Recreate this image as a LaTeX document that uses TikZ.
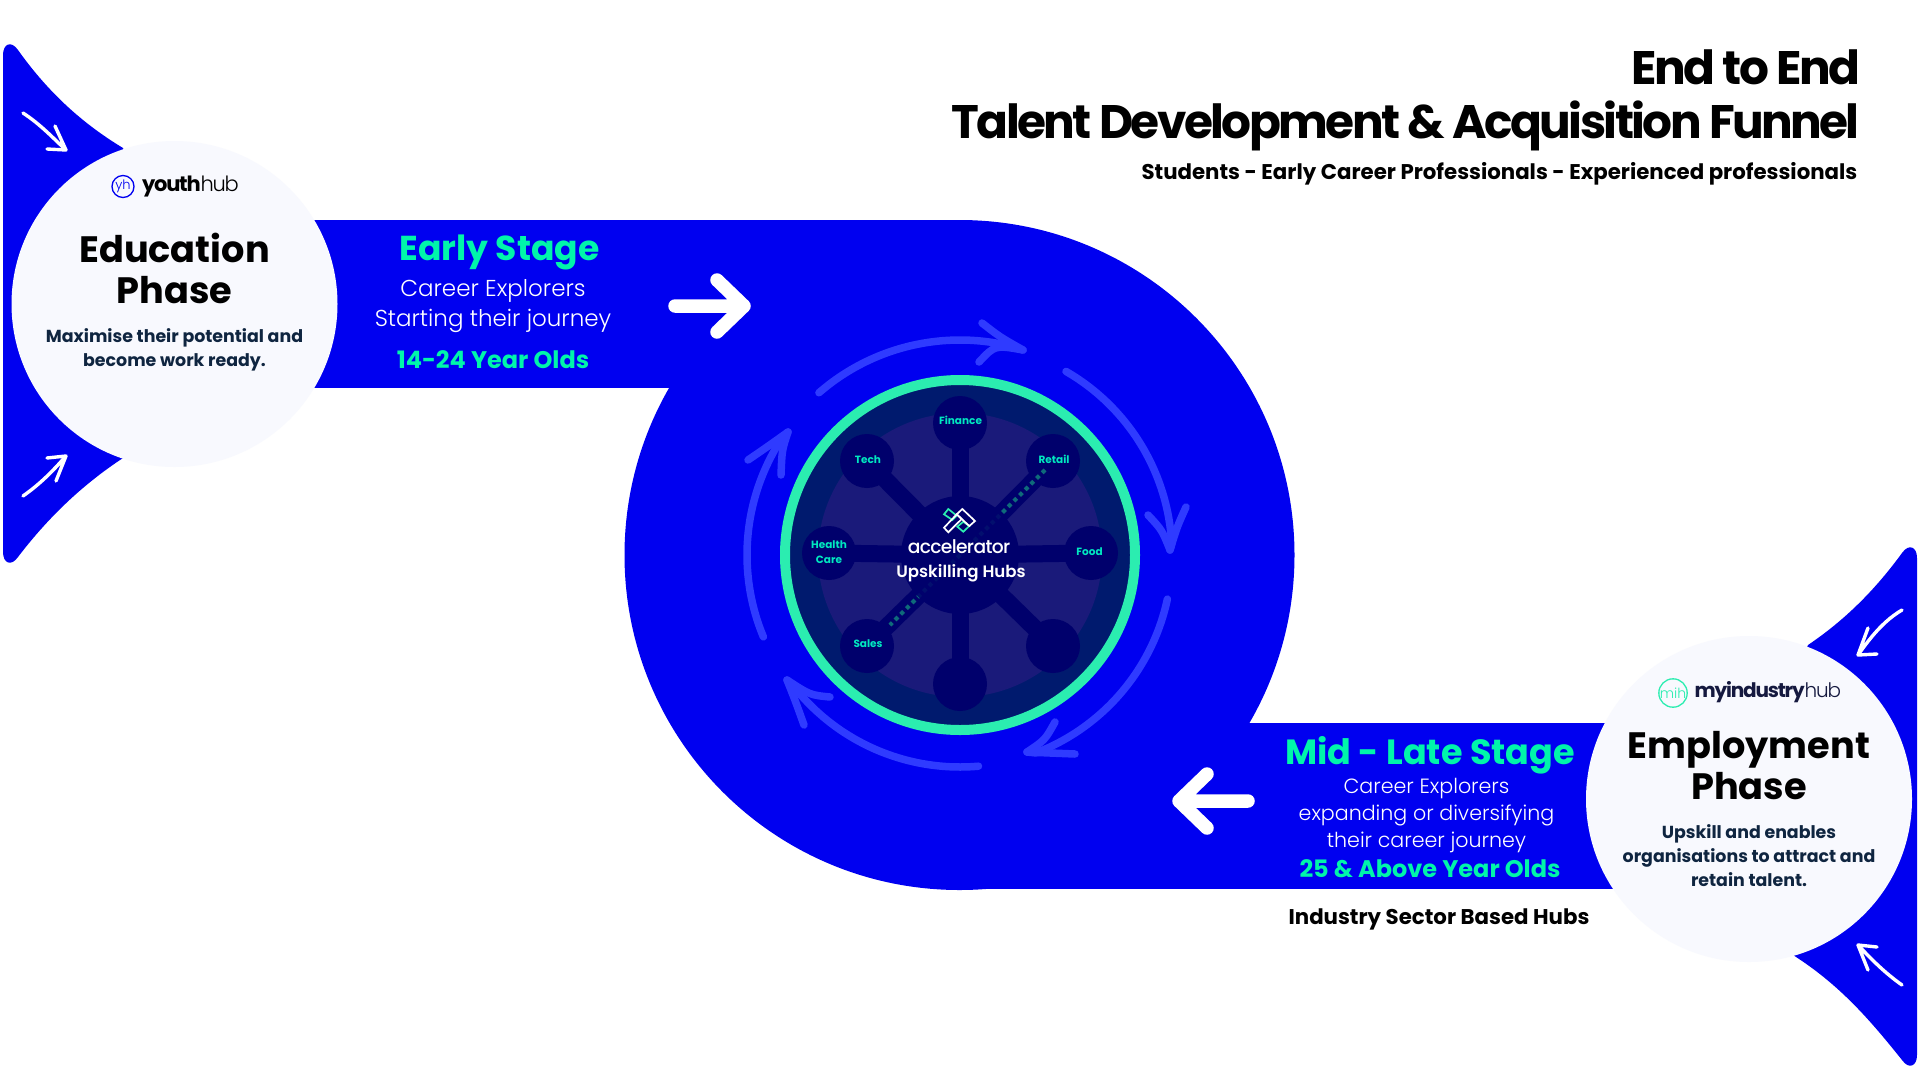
\documentclass[tikz,border=0pt]{standalone}
\usepackage{fontspec}
\setmainfont{Poppins}
\newfontfamily\popb{Poppins}[UprightFont=*-Bold,BoldFont=*-Bold]
\newfontfamily\popsb{Poppins}[UprightFont=*-SemiBold]
\newfontfamily\popm{Poppins}[UprightFont=*-Medium]
\newfontfamily\popr{Poppins}[UprightFont=*-Regular]
\newfontfamily\popl{Poppins}[UprightFont=*-Light]
\newfontfamily\poptight{Poppins}[UprightFont=*-Bold,LetterSpace=-5.5]
\newfontfamily\poplogo{Poppins}[UprightFont=*-Bold,LetterSpace=-6]
\newfontfamily\poplogol{Poppins}[UprightFont=*-Light,LetterSpace=-6]
\newfontfamily\popacc{Poppins}[UprightFont=*-Medium,LetterSpace=-3.5]
\definecolor{royal}{HTML}{0000F0}
\definecolor{mint}{HTML}{00F5AA}
\definecolor{ringg}{HTML}{2BEDB0}
\definecolor{paper}{HTML}{F8F9FE}
\definecolor{navyink}{HTML}{0F2540}
\definecolor{logoink}{HTML}{15193F}
\definecolor{faint}{HTML}{2F3BFF}
\definecolor{innerb}{HTML}{001A6E}
\definecolor{innerp}{HTML}{1A1A7A}
\definecolor{hubb}{HTML}{00006C}
\definecolor{teal}{HTML}{0F6A7A}
\definecolor{labelc}{HTML}{00E8C0}
\tikzset{
  spoke/.style={draw=hubb,line width=17pt},
  sat/.style={circle,fill=hubb,minimum size=54pt,inner sep=0pt},
  orbit/.style={draw=faint,line width=7.5pt,line cap=round,line join=round},
  whitearrow/.style={draw=white,line width=13.5pt,line cap=round,line join=round},
  thinarrow/.style={draw=white,line width=3.4pt,line cap=round,line join=round},
  phase/.style={circle,fill=paper,minimum size=326pt,inner sep=0pt},
  dots/.style={draw=teal,line width=4pt,dash pattern=on 4pt off 4pt},
}
\begin{document}
\begin{tikzpicture}[x=1pt,y=-1pt]
\useasboundingbox (0,0) rectangle (1920,1080);
\fill[white] (0,0) rectangle (1920,1080);
% blue body
\fill[royal] (959.5,555) circle[radius=335pt];
\fill[royal] (300,220) rectangle (960,388);
\fill[royal] (960,722.5) rectangle (1640,889);
% left spike
\fill[royal] (3,55) .. controls (3,44) and (11,40) .. (18,50)
  .. controls (50,95) and (85,125) .. (123,148) -- (200,304) -- (123,458)
  .. controls (85,483) and (50,515) .. (18,557)
  .. controls (11,567) and (3,563) .. (3,552) -- cycle;
% right spike
\fill[royal] (1917,558) .. controls (1917,547) and (1909,543) .. (1902,553)
  .. controls (1875,590) and (1845,620) .. (1808,645) -- (1740,799) -- (1793,955)
  .. controls (1840,985) and (1870,1020) .. (1902,1060)
  .. controls (1909,1070) and (1917,1066) .. (1917,1055) -- cycle;
% small arrows
\coordinate (la1) at (23,113); \coordinate (la2) at (66,150);
\draw[thinarrow] (la1) .. controls (40,124) and (52,137) .. (la2) (55,126) -- (la2) -- (47,149);
\coordinate (lb1) at (23,496); \coordinate (lb2) at (66,456);
\draw[thinarrow] (lb1) .. controls (40,484) and (52,472) .. (lb2) (47,458) -- (lb2) -- (56,481);
\coordinate (ra1) at (1902,610); \coordinate (ra2) at (1858,655);
\draw[thinarrow] (ra1) .. controls (1885,620) and (1872,635) .. (ra2) (1868,628) -- (ra2) -- (1877,654);
\coordinate (rb1) at (1902,985); \coordinate (rb2) at (1858,945);
\draw[thinarrow] (rb1) .. controls (1885,973) and (1872,960) .. (rb2) (1877,947) -- (rb2) -- (1868,970);
% phase circles
\node[phase] (edu) at (174.5,304) {};
\node[phase] (emp) at (1749,799) {};
% orbit arrows
\draw[orbit] plot[domain=229:284,samples=30,smooth] ({960+215*cos(\x)},{555+215*sin(\x)}) -- (1023,350);
\draw[orbit] (982,323) .. controls (1000,337) .. (1023,350) .. controls (995,345) .. (979,362);
\draw[orbit] plot[domain=300:357,samples=30,smooth] ({960+212*cos(\x)},{555+212*sin(\x)}) -- (1170,550);
\draw[orbit] (1148,515) .. controls (1162,530) .. (1170,550) .. controls (1177,527) .. (1186,507);
\draw[orbit] plot[domain=12:69,samples=30,smooth] ({960+212*cos(\x)},{555+212*sin(\x)}) -- (1027,752);
\draw[orbit] (1055,722) .. controls (1045,740) .. (1027,752) .. controls (1050,753) .. (1075,754);
\draw[orbit] plot[domain=85:142,samples=30,smooth] ({960+212*cos(\x)},{555+212*sin(\x)}) -- (787,680);
\draw[orbit] (830,697) .. controls (810,695) .. (787,680) .. controls (795,700) .. (804,725);
\draw[orbit] plot[domain=157.4:213,samples=30,smooth] ({960+213*cos(\x)},{555+213*sin(\x)}) -- (788,432);
\draw[orbit] (748,460) .. controls (767,447) .. (788,432) .. controls (782,450) .. (781,475);
% wheel
\draw[draw=ringg,fill=innerb,line width=10pt] (960,555) circle[radius=175pt];
\fill[innerp] (960,555) circle[radius=142pt];
\node[sat] (fin) at (960,423) {};
\node[sat] (tech) at (867,461) {};
\node[sat] (ret) at (1053,461) {};
\node[sat] (hea) at (829,553) {};
\node[sat] (foo) at (1091,553) {};
\node[sat] (sal) at (867,646) {};
\node[sat] (ne) at (1053,646) {};
\node[sat] (bot) at (960,684) {};
\coordinate (hubc) at (960,555);
\foreach \s in {fin,tech,ret,hea,foo,sal,ne,bot} \draw[spoke] (hubc) -- (\s.center);
\coordinate (d1) at (1045,470); \coordinate (d2) at (890,625);
\draw[dots] (d1) -- (d2);
\node[circle,fill=hubb,minimum size=118pt,inner sep=0pt] (hub) at (hubc) {};
\draw[dots,opacity=.15] (d1) -- (d2);
\begin{scope}[every node/.style={text=labelc,font=\popb\fontsize{10.5}{15}\selectfont,align=center,inner sep=0pt}]
\node (tfin) at (960.5,420) {Finance};
\node (ttech) at (868,459.5) {Tech};
\node (tret) at (1054,459) {Retail};
\node (thea) at (829,552) {Health\\Care};
\node (tfoo) at (1089.5,552) {Food};
\node (tsal) at (868,644) {Sales};
\end{scope}
% accelerator logo
\draw[ringg,line width=1.7pt] (944,514.3) -- (948.3,509) -- (956.7,515.7) -- (952.5,520) -- cycle;
\draw[ringg,line width=1.7pt] (957.3,526.7) -- (963.3,521.7) -- (969.3,526) -- (963.3,531.7) -- cycle;
\draw[white,line width=1.7pt,line join=miter] (944,527.7) -- (948.3,532.3) -- (961.7,519) -- (956.7,514.3) -- cycle;
\draw[white,line width=1.7pt,line join=miter] (956.7,514.3) -- (962.3,509) -- (975,521) -- (969.3,526) -- cycle;
\node[text=white,inner sep=0pt,font=\popacc\fontsize{18.7}{24}\selectfont] (acc) at (959,547) {accelerator};
\node[text=white,inner sep=0pt,font=\popsb\fontsize{16.6}{20}\selectfont] (ups) at (961,573) {Upskilling Hubs};
% left phase text
\node[circle,draw=royal,line width=1.3pt,minimum size=22pt,inner sep=0pt,font=\popl\fontsize{13}{13}\selectfont,text=royal] (yh) at (123,186.5) {yh};
\node[anchor=west,inner sep=0pt,text=black] (yt) at (142,187) {{\poplogo\fontsize{21}{24}\selectfont youth}{\poplogol\fontsize{21}{24}\selectfont hub}};
\node[align=center,inner sep=0pt,text=black,font=\popb\fontsize{36.7}{41}\selectfont] (edut) at (174.5,268) {Education\\Phase};
\node[align=center,inner sep=0pt,text=navyink,font=\popb\fontsize{17.4}{24}\selectfont] (edud) at (174.5,350) {Maximise their potential and\\become work ready.};
% right phase text
\node[circle,draw=ringg,line width=1.3pt,minimum size=27pt,inner sep=0pt,font=\popl\fontsize{14}{14}\selectfont,text=ringg] (mih) at (1673,693) {mih};
\node[anchor=west,inner sep=0pt,text=logoink] (mt) at (1694.5,692.5) {{\poplogo\fontsize{20}{24}\selectfont myindustry}{\poplogol\fontsize{20}{24}\selectfont hub}};
\node[align=center,inner sep=0pt,text=black,font=\popb\fontsize{36.7}{41}\selectfont] (empt) at (1749,766) {Employment\\Phase};
\node[align=center,inner sep=0pt,text=navyink,font=\popb\fontsize{17.4}{24}\selectfont] (empd) at (1749,856) {Upskill and enables\\organisations to attract and\\retain talent.};
% early stage
\node[inner sep=0pt,text=mint,font=\popb\fontsize{34.6}{40}\selectfont] (es) at (499.5,252.5) {Early Stage};
\node[align=center,inner sep=0pt,text=white,font=\popl\fontsize{23}{30.6}\selectfont] (esd) at (493,306) {Career Explorers\\Starting their journey};
\node[inner sep=0pt,text=mint,font=\popb\fontsize{24}{28}\selectfont] (esy) at (493,360) {14-24 Year Olds};
\coordinate (w1) at (675,306); \coordinate (w2) at (744,306);
\coordinate (w1a) at (717,280); \coordinate (w1b) at (717,332);
\draw[whitearrow] (w1) -- (w2) (w1a) -- (w2) -- (w1b);
% mid late
\node[inner sep=0pt,text=mint,font=\popb\fontsize{35}{40}\selectfont] (ms) at (1430,755.5) {Mid - Late Stage};
\node[align=center,inner sep=0pt,text=white,font=\popl\fontsize{20.6}{27}\selectfont] (msd) at (1426.5,816) {Career Explorers\\expanding or diversifying\\their career journey};
\node[inner sep=0pt,text=mint,font=\popb\fontsize{24}{28}\selectfont] (msy) at (1430,869) {25 \& Above Year Olds};
\coordinate (w3) at (1248,801); \coordinate (w4) at (1179,801);
\coordinate (w3a) at (1207,774); \coordinate (w3b) at (1207,828);
\draw[whitearrow] (w3) -- (w4) (w3a) -- (w4) -- (w3b);
\node[inner sep=0pt,text=black,font=\popb\fontsize{21.3}{26}\selectfont] (ish) at (1439,919) {Industry Sector Based Hubs};
% title
\node[anchor=east,inner sep=0pt,text=black,font=\poptight\fontsize{47}{54}\selectfont] (t1) at (1860.5,67.5) {End to End};
\node[anchor=east,inner sep=0pt,text=black,font=\poptight\fontsize{47}{54}\selectfont] (t2) at (1860,125.5) {Talent Development \& Acquisition Funnel};
\node[anchor=east,inner sep=0pt,text=black,font=\popb\fontsize{21.3}{26}\selectfont] (t3) at (1857.5,173.5) {Students - Early Career Professionals - Experienced professionals};
\end{tikzpicture}
\end{document}
